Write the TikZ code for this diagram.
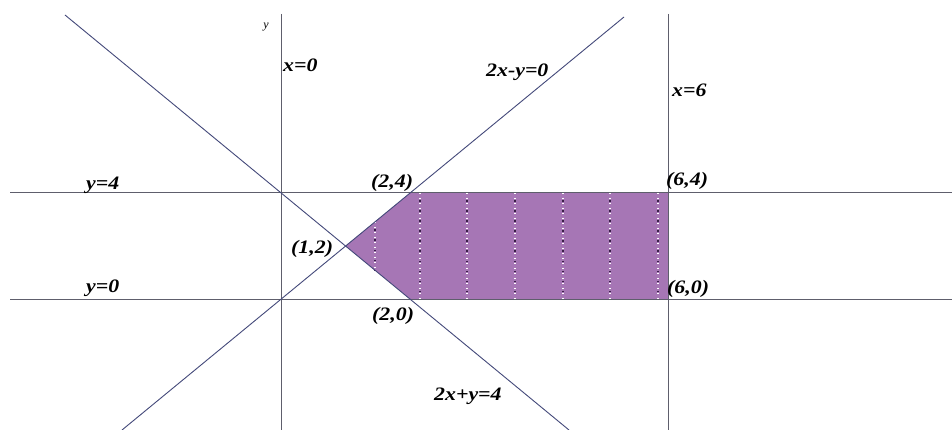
\documentclass[tikz,border=0pt]{standalone}
\usepackage{fontspec}
\setmainfont{Liberation Serif}
\usepackage{graphicx}
\definecolor{regionfill}{HTML}{A676B5}
\definecolor{axisgray}{HTML}{5E5E6C}
\definecolor{slateline}{HTML}{44497A}
\definecolor{dotdark}{HTML}{3A1F48}
\tikzset{
  axisline/.style={draw=axisgray, line width=1pt},
  slope/.style={draw=slateline, line width=0.9pt},
  lbl/.style={inner sep=0pt, font=\fontsize{19}{19}\selectfont\bfseries\itshape},
  dotwhite/.style={draw=white, line width=1.4pt, dash pattern=on 1.4pt off 3.6pt},
  dotblack/.style={draw=dotdark, line width=1.1pt, dash pattern=on 1.1pt off 8.9pt, dash phase=2.5pt},
}
\newcommand{\wide}[1]{\scalebox{1.15}[1]{#1}}
\begin{document}
\begin{tikzpicture}[x=1pt, y=-1pt]
\useasboundingbox (0,0) rectangle (952,430);
\fill[white] (0,0) rectangle (952,430);
% key points
\coordinate (O) at (281,299);
\coordinate (P12) at (345.5,246);
\coordinate (P24) at (410,193);
\coordinate (P64) at (668,193);
\coordinate (P60) at (668,299);
\coordinate (P20) at (410,299);
% line ends
\coordinate (yaxT) at (281,14);
\coordinate (yaxB) at (281,430);
\coordinate (x6T) at (668,14);
\coordinate (x6B) at (668,430);
\coordinate (y4L) at (10,193);
\coordinate (y4R) at (952,193);
\coordinate (y0L) at (10,299);
\coordinate (y0R) at (952,299);
\coordinate (aT) at (65,15);
\coordinate (aB) at (569,430);
\coordinate (bT) at (624,17);
\coordinate (bB) at (122,430);
% feasible region
\fill[regionfill] (P12) -- (P24) -- (P64) -- (P60) -- (P20) -- cycle;
% dotted hatch lines
\foreach \xx/\ta/\tb in {375/222/270, 420/193/299, 467/193/299, 515/193/299, 563/193/299, 610/193/299, 658/193/299} {
  \draw[dotwhite] (\xx,\ta) -- (\xx,\tb);
  \draw[dotblack] (\xx,\ta) -- (\xx,\tb);
}
% lines
\draw[axisline] (yaxT) -- (yaxB);
\draw[axisline] (x6T) -- (x6B);
\draw[axisline] (y4L) -- (y4R);
\draw[axisline] (y0L) -- (y0R);
\draw[slope] (aT) -- (aB);
\draw[slope] (bT) -- (bB);
% labels
\node[font=\fontsize{12}{12}\selectfont\itshape, inner sep=0pt] (ylab) at (266,27) {y};
\node[lbl, anchor=west] (lx0) at (283,65) {\wide{x=0}};
\node[lbl, anchor=west] (l2xy) at (486,72) {\wide{2x-y=0}};
\node[lbl, anchor=west] (lx6) at (672,90) {\wide{x=6}};
\node[lbl, anchor=west] (ly4) at (86,185) {\wide{y=4}};
\node[lbl, anchor=west] (ly0) at (86,288) {\wide{y=0}};
\node[lbl, anchor=west] (l24) at (371,183) {\wide{(2,4)}};
\node[lbl, anchor=west] (l64) at (666,181) {\wide{(6,4)}};
\node[lbl, anchor=west] (l12) at (291,249) {\wide{(1,2)}};
\node[lbl, anchor=west] (l20) at (372,316) {\wide{(2,0)}};
\node[lbl, anchor=west] (l60) at (667,289) {\wide{(6,0)}};
\node[lbl, anchor=west] (l2xp) at (434,396) {\wide{2x+y=4}};
\end{tikzpicture}
\end{document}
